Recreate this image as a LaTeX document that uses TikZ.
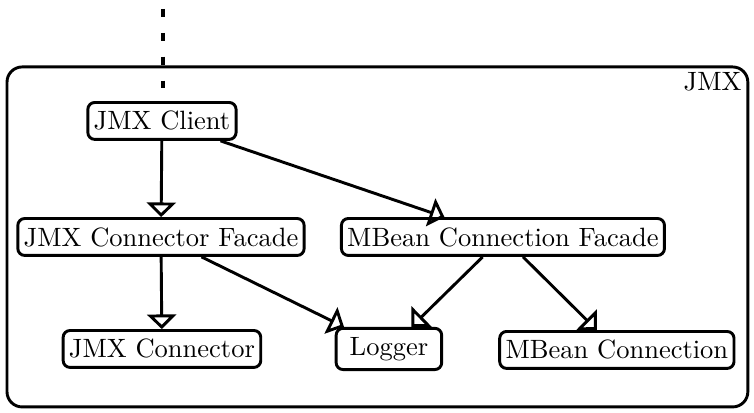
\documentclass[tikz,border=0pt]{standalone}
\usepackage{tikz}
\usetikzlibrary{arrows.meta}

\begin{document}
\begin{tikzpicture}[
    comp/.style={draw, line width=1.1pt, rounded corners=2.6pt, inner xsep=2.2pt,
      minimum height=0.47cm},
    uses/.style={line width=1.1pt, -{Triangle[open, length=5.5pt, width=11pt]}}
  ]
  \useasboundingbox (0,0) rectangle (10.0,-5.477);
  \draw[line width=1.1pt, rounded corners=5.7pt] (0.093,-0.888) rectangle (9.918,-5.397);
  \node (jmxlabel) at (9.45,-1.09) {JMX};

  \node[comp] (jmxclient) at (2.148,-1.604) {JMX Client};
  \node[comp] (jcfacade)  at (2.135,-3.143) {JMX Connector Facade};
  \node[comp] (mbfacade)  at (6.670,-3.143) {MBean Connection Facade};
  \node[comp] (jmxconn)   at (2.148,-4.628) {JMX Connector};
  \node[comp, minimum width=1.4cm, minimum height=0.5cm] (logger) at (5.158,-4.628) {Logger};
  \node[comp] (mbconn)    at (8.181,-4.641) {MBean Connection};

  % external caller
  \coordinate (caller) at (2.161,-0.119);
  \coordinate (entry)  at (2.161,-1.18);
  \draw[line width=1.5pt, dash pattern=on 3pt off 6pt] (caller) -- (entry);

  \draw[uses] (jmxclient) -- (jcfacade);
  \draw[uses] (jmxclient) -- (mbfacade);
  \draw[uses] (jcfacade) -- (jmxconn);
  \draw[uses] (jcfacade) -- (logger);
  \draw[uses] (mbfacade) -- (logger);
  \draw[uses] (mbfacade) -- (mbconn);
\end{tikzpicture}
\end{document}
